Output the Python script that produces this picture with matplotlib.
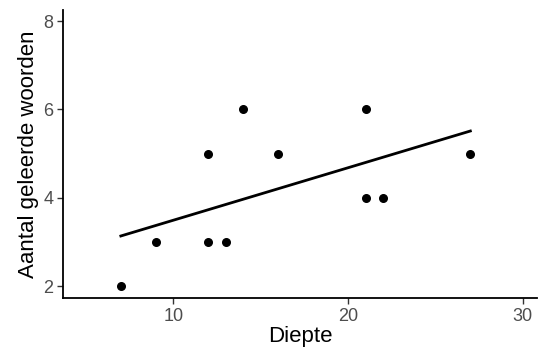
import numpy as np
import matplotlib
matplotlib.use("Agg")
import matplotlib.pyplot as plt

plt.rcParams['font.family'] = ['Liberation Sans', 'DejaVu Sans']

diepte = [7, 9, 12, 13, 12, 14, 16, 21, 21, 22, 27]
woorden = [2, 3, 3, 3, 5, 6, 5, 6, 4, 4, 5]
x_ticks = [10, 20, 30]
y_ticks = [2, 4, 6, 8]

fig = plt.figure(figsize=(5.4, 3.59), dpi=100)
ax = fig.add_axes([0.117, 0.170, 0.877, 0.802])

# lineaire fit zoals geom_smooth(method = "lm", se = FALSE)
slope, intercept = np.polyfit(diepte, woorden, 1)
xs = np.array([min(diepte), max(diepte)])
ax.plot(xs, slope * xs + intercept, color='black', lw=2.0, zorder=2)
ax.scatter(diepte, woorden, s=30, color='black', zorder=3)

ax.set_xlim(3.7, 30.8)
ax.set_ylim(1.73, 8.25)
ax.set_xticks(x_ticks)
ax.set_yticks(y_ticks)

for side in ['top', 'right']:
    ax.spines[side].set_visible(False)
for side in ['left', 'bottom']:
    ax.spines[side].set_linewidth(1.3)
    ax.spines[side].set_color('black')
ax.tick_params(colors='#4d4d4d', labelsize=13, length=4, width=1, pad=3)
ax.tick_params(axis='both', color='#333333')

ax.set_xlabel('Diepte', fontsize=16, labelpad=1)
ax.set_ylabel('Aantal geleerde woorden', fontsize=16, labelpad=3)

fig.savefig('out.png', dpi=100)
